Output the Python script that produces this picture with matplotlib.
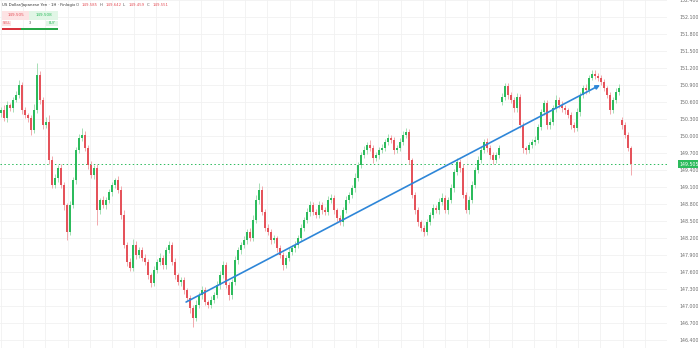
import numpy as np
import matplotlib.pyplot as plt
from matplotlib.patches import Rectangle
from matplotlib.ticker import MultipleLocator

# ---- data (USD/JPY 1H candles) ----
closes = [
    150.46, 150.32, 150.55, 150.49, 150.64, 150.72, 150.90, 150.46, 150.37, 150.32,
    150.11, 150.46, 151.08, 150.64, 150.19, 150.25, 149.58, 149.14, 149.26, 149.44,
    149.14, 148.78, 148.31, 148.78, 149.22, 149.75, 149.96, 150.02, 149.79, 149.49,
    149.31, 149.44, 148.69, 148.87, 148.78, 148.87, 149.01, 149.14, 149.22, 149.05,
    148.61, 148.08, 147.78, 147.67, 148.08, 147.90, 147.99, 147.85, 147.78, 147.55,
    147.41, 147.64, 147.78, 147.85, 147.72, 147.99, 148.08, 147.78, 147.55, 147.42,
    147.46, 147.28, 147.14, 146.96, 146.79, 147.02, 147.19, 147.28, 147.07, 147.02,
    147.11, 147.19, 147.37, 147.55, 147.72, 147.37, 147.19, 147.42, 147.81, 147.99,
    148.08, 148.16, 148.31, 148.20, 148.52, 148.87, 149.05, 148.66, 148.38, 148.31,
    148.16, 148.20, 148.02, 147.90, 147.72, 147.85, 147.95, 148.02, 148.08, 148.20,
    148.38, 148.52, 148.66, 148.78, 148.66, 148.61, 148.78, 148.69, 148.66, 148.87,
    148.91, 148.69, 148.55, 148.48, 148.69, 148.87, 148.96, 149.08, 149.26, 149.49,
    149.66, 149.75, 149.84, 149.79, 149.61, 149.66, 149.75, 149.79, 149.89, 149.96,
    149.93, 149.75, 149.79, 149.89, 150.02, 150.07, 149.58, 148.96, 148.69, 148.48,
    148.38, 148.31, 148.48, 148.61, 148.73, 148.69, 148.84, 148.91, 148.69, 148.87,
    149.08, 149.36, 149.54, 149.44, 148.96, 148.69, 148.87, 149.14, 149.40, 149.58,
    149.75, 149.89, 149.79, 149.66, 149.58, 149.66, 149.79, 150.69, 150.88, 150.72,
    150.64, 150.49, 150.69, 150.19, 149.79, 149.75, 149.84, 149.89, 149.93, 150.16,
    150.42, 150.58, 150.19, 150.25, 150.49, 150.64, 150.55, 150.49, 150.46, 150.37,
    150.19, 150.14, 150.42, 150.72, 150.85, 150.81, 151.02, 151.09, 151.06, 151.02,
    150.95, 150.85, 150.72, 150.46, 150.64, 150.78, 150.85, 150.19, 150.02, 149.79,
    149.505,
]
first_open = 150.40
gap_opens = {167: 150.60, 207: 150.28}   # weekend / session gaps

wick_hi = [
    0.05, 0.08, 0.06, 0.04, 0.05, 0.07, 0.09, 0.05, 0.06, 0.04,
    0.05, 0.10, 0.21, 0.06, 0.05, 0.08, 0.12, 0.06, 0.07, 0.05,
    0.06, 0.05, 0.04, 0.08, 0.06, 0.05, 0.07, 0.12, 0.06, 0.05,
    0.07, 0.05, 0.06, 0.04, 0.08, 0.05, 0.06, 0.05, 0.04, 0.07,
    0.06, 0.09, 0.05, 0.07, 0.10, 0.06, 0.05, 0.06, 0.07, 0.05,
    0.04, 0.06, 0.05, 0.08, 0.05, 0.06, 0.07, 0.05, 0.06, 0.04,
    0.05, 0.06, 0.04, 0.05, 0.06, 0.08, 0.05, 0.07, 0.05, 0.04,
    0.06, 0.05, 0.07, 0.06, 0.08, 0.05, 0.06, 0.05, 0.07, 0.06,
    0.05, 0.07, 0.05, 0.06, 0.08, 0.09, 0.12, 0.06, 0.05, 0.07,
    0.05, 0.06, 0.04, 0.05, 0.06, 0.05, 0.07, 0.05, 0.06, 0.05,
    0.06, 0.05, 0.07, 0.08, 0.05, 0.06, 0.07, 0.05, 0.06, 0.08,
    0.07, 0.05, 0.04, 0.06, 0.05, 0.07, 0.06, 0.05, 0.08, 0.06,
    0.05, 0.07, 0.06, 0.09, 0.05, 0.06, 0.05, 0.07, 0.06, 0.08,
    0.05, 0.06, 0.05, 0.07, 0.06, 0.07, 0.05, 0.04, 0.06, 0.05,
    0.04, 0.05, 0.06, 0.05, 0.07, 0.05, 0.06, 0.08, 0.05, 0.06,
    0.07, 0.06, 0.08, 0.05, 0.06, 0.05, 0.07, 0.06, 0.05, 0.07,
    0.06, 0.05, 0.07, 0.05, 0.06, 0.05, 0.06, 0.07, 0.06, 0.05,
    0.06, 0.05, 0.07, 0.06, 0.05, 0.04, 0.06, 0.05, 0.07, 0.06,
    0.05, 0.06, 0.05, 0.07, 0.06, 0.08, 0.05, 0.06, 0.05, 0.04,
    0.06, 0.05, 0.07, 0.06, 0.05, 0.07, 0.06, 0.08, 0.07, 0.05,
    0.06, 0.05, 0.04, 0.06, 0.05, 0.07, 0.06, 0.05, 0.06, 0.05,
    0.04,
]
wick_lo = [
    0.06, 0.05, 0.07, 0.05, 0.06, 0.04, 0.05, 0.07, 0.06, 0.08,
    0.10, 0.06, 0.05, 0.07, 0.06, 0.05, 0.08, 0.06, 0.05, 0.07,
    0.06, 0.08, 0.15, 0.06, 0.05, 0.07, 0.05, 0.04, 0.06, 0.07,
    0.05, 0.06, 0.26, 0.06, 0.05, 0.07, 0.05, 0.06, 0.05, 0.06,
    0.07, 0.06, 0.08, 0.06, 0.05, 0.07, 0.06, 0.05, 0.06, 0.08,
    0.07, 0.05, 0.06, 0.05, 0.07, 0.06, 0.05, 0.06, 0.07, 0.05,
    0.06, 0.07, 0.05, 0.08, 0.16, 0.06, 0.05, 0.07, 0.06, 0.05,
    0.05, 0.06, 0.05, 0.07, 0.06, 0.05, 0.08, 0.06, 0.05, 0.06,
    0.07, 0.05, 0.06, 0.05, 0.06, 0.05, 0.07, 0.06, 0.05, 0.06,
    0.06, 0.05, 0.07, 0.06, 0.08, 0.05, 0.06, 0.05, 0.06, 0.05,
    0.05, 0.06, 0.05, 0.07, 0.06, 0.05, 0.06, 0.07, 0.05, 0.06,
    0.05, 0.06, 0.07, 0.05, 0.06, 0.05, 0.06, 0.05, 0.07, 0.06,
    0.06, 0.05, 0.07, 0.06, 0.08, 0.05, 0.06, 0.05, 0.06, 0.05,
    0.06, 0.07, 0.05, 0.06, 0.05, 0.06, 0.08, 0.06, 0.07, 0.06,
    0.05, 0.07, 0.06, 0.05, 0.06, 0.05, 0.07, 0.06, 0.05, 0.06,
    0.05, 0.06, 0.05, 0.07, 0.06, 0.05, 0.06, 0.05, 0.06, 0.05,
    0.06, 0.05, 0.07, 0.06, 0.08, 0.06, 0.05, 0.06, 0.05, 0.06,
    0.05, 0.06, 0.07, 0.05, 0.09, 0.06, 0.05, 0.06, 0.05, 0.06,
    0.06, 0.05, 0.07, 0.06, 0.05, 0.06, 0.05, 0.06, 0.07, 0.05,
    0.06, 0.07, 0.05, 0.06, 0.05, 0.06, 0.05, 0.04, 0.06, 0.05,
    0.05, 0.06, 0.05, 0.07, 0.06, 0.05, 0.06, 0.07, 0.06, 0.05,
    0.20,
]

trend_x = [61.7, 199.7]          # candle index
trend_y = [147.07, 150.90]
last_price = 149.505
sell_price = '149.505'
buy_price = '149.508'
spread = '3'
header_name = 'US Dollar/Japanese Yen · 1H · Finlogix'
ohlc_labels = ['O', 'H', 'L', 'C']
ohlc_values = ['149.585', '149.642', '149.459', '149.551']
price_ticks = np.arange(146.4, 152.41, 0.3)

UP = '#2cbb5c'
DOWN = '#e5535b'
UP_WICK = '#a6dfb5'
DOWN_WICK = '#f2a9ad'
GRID = '#f1f1f1'

# ---- build OHLC ----
closes = np.array(closes)
opens = np.concatenate([[first_open], closes[:-1]])
for k, v in gap_opens.items():
    opens[k] = v
highs = np.maximum(opens, closes) + np.array(wick_hi)
lows = np.minimum(opens, closes) - np.array(wick_lo)
idx = np.arange(len(closes))
up = closes >= opens

W, H = 698, 348
fig = plt.figure(figsize=(W / 100, H / 100), dpi=100)
ax = fig.add_axes([0, 0, 667 / W, 1])

ax.vlines(idx, lows, highs, colors=np.where(up, UP_WICK, DOWN_WICK), linewidth=0.7, zorder=2)
body = np.maximum(np.abs(closes - opens), 0.012)
ax.bar(idx, body, bottom=np.minimum(opens, closes), width=0.55,
       color=np.where(up, UP, DOWN), linewidth=0, zorder=3)

# trend line with arrow
ax.annotate('', xy=(trend_x[1], trend_y[1]), xytext=(trend_x[0], trend_y[0]),
            arrowprops=dict(arrowstyle='-|>', color='#2e86d8', lw=1.2,
                            mutation_scale=6, shrinkA=0, shrinkB=0), zorder=5)

# last price dotted line + label
ax.axhline(last_price, color=UP, linestyle=(0, (1.5, 2.5)), linewidth=0.7, zorder=1)
ax.annotate(f'{last_price:.3f}', xy=(1.0, last_price), xycoords=('axes fraction', 'data'),
            xytext=(9, 0), textcoords='offset points', fontsize=3.4, color='white',
            va='center', ha='left', annotation_clip=False,
            bbox=dict(boxstyle='square,pad=0.3', facecolor=UP, edgecolor='none'))

ax.set_ylim(152.4 - H * 0.3 / 17, 152.4)
ax.set_xlim(-1 / 3, 222)
ax.yaxis.tick_right()
ax.set_yticks(price_ticks)
ax.set_yticklabels([f'{p:.3f}' for p in price_ticks])
ax.tick_params(axis='y', length=0, pad=9, labelsize=3.4, labelcolor='#6f6f6f')
ax.tick_params(axis='x', length=0, labelbottom=False)
ax.xaxis.set_major_locator(MultipleLocator(7.4))
ax.grid(True, color=GRID, linewidth=0.6)
ax.set_axisbelow(True)
for s in ax.spines.values():
    s.set_visible(False)


def px(x, y):
    return x / W, 1 - y / H


# header
fig.text(*px(2, 5), header_name, fontsize=2.8, color='#333333', va='center')
x0 = 76
for lab, val in zip(ohlc_labels, ohlc_values):
    fig.text(*px(x0, 5), lab, fontsize=2.8, color='#555555', va='center')
    fig.text(*px(x0 + 6, 5), val, fontsize=2.8, color=DOWN, va='center')
    x0 += 23.5

# sell / buy widget
fig.add_artist(Rectangle(px(2, 20), 27 / W, 9 / H, transform=fig.transFigure,
                         facecolor='#fde3e4', edgecolor='none'))
fig.add_artist(Rectangle(px(29, 20), 29 / W, 9 / H, transform=fig.transFigure,
                         facecolor='#e1f6e6', edgecolor='none'))
fig.text(*px(15.5, 15.5), sell_price, fontsize=3.0, color=DOWN, ha='center', va='center')
fig.text(*px(43.5, 15.5), buy_price, fontsize=3.0, color=UP, ha='center', va='center')
fig.add_artist(Rectangle(px(2, 26), 9 / W, 5 / H, transform=fig.transFigure,
                         facecolor='#fde3e4', edgecolor='none'))
fig.add_artist(Rectangle(px(46, 26), 12 / W, 5 / H, transform=fig.transFigure,
                         facecolor='#e1f6e6', edgecolor='none'))
fig.text(*px(6.5, 23.5), 'SELL', fontsize=2.4, color=DOWN, ha='center', va='center')
fig.text(*px(30, 23.5), spread, fontsize=2.4, color='#444444', ha='center', va='center')
fig.text(*px(52, 23.5), 'BUY', fontsize=2.4, color=UP, ha='center', va='center')
fig.add_artist(Rectangle(px(2, 30), 19 / W, 2 / H, transform=fig.transFigure,
                         facecolor='#d8323c', edgecolor='none'))
fig.add_artist(Rectangle(px(21, 30), 37 / W, 2 / H, transform=fig.transFigure,
                         facecolor='#27a847', edgecolor='none'))

plt.savefig('out.png', dpi=100)
